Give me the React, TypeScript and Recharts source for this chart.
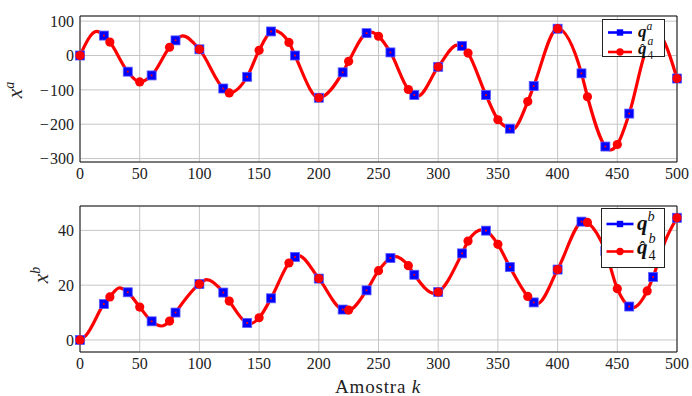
import {
  CartesianGrid,
  ComposedChart,
  Line,
  ReferenceArea,
  XAxis,
  YAxis,
} from "recharts";

const FONT = '"Liberation Serif", "Times New Roman", serif';
const BLUE = "#0000ff";
const RED = "#ff0000";

// sample positions of the markers
const kSquares = [0, 20, 40, 60, 80, 100, 120, 140, 160, 180, 200, 220, 240, 260, 280, 300, 320, 340, 360, 380, 400, 420, 440, 460, 480, 500];
const kCircles = [0, 25, 50, 75, 100, 125, 150, 175, 200, 225, 250, 275, 300, 325, 350, 375, 400, 425, 450, 475, 500];

// x^a : q^a (squares) and q-hat^a_4 (circles)
const qaValues = [0, 58, -47, -58, 44, 18, -96, -62, 70, 0, -123, -49, 65, 9, -115, -33, 28, -115, -213, -89, 78, -52, -265, -169, 58, -67];
const qaHatValues = [0, 39, -77, 24, 18, -109, 15, 38, -123, -17, 56, -99, -33, 7, -187, -134, 78, -120, -259, 26, -67];
// extra points of the curve (peaks / troughs between markers)
const kExtraA = [14, 86, 162, 244, 283, 316, 362, 444, 484, 490];
const extraAValues = [70, 57, 73, 68, -118, 30, -216, -275, 68, 35];

// x^b
const qbValues = [0, 13.1, 17.4, 6.8, 10.0, 20.4, 17.3, 6.2, 15.2, 30.3, 22.4, 11.1, 18.1, 29.9, 23.8, 17.5, 31.6, 39.9, 26.6, 13.7, 25.7, 43.2, 32.5, 12.2, 23.0, 44.6];
const qbHatValues = [0, 15.7, 12.0, 6.9, 20.4, 14.2, 8.1, 28.1, 22.4, 10.9, 25.3, 27.1, 17.5, 36.1, 34.9, 15.9, 25.7, 42.9, 18.7, 17.9, 44.6];
const kExtraB = [5, 33, 68, 106, 143, 183, 263, 297, 337, 383, 422, 463, 490];
const extraBValues = [1.7, 19.0, 5.1, 22.0, 6.0, 30.8, 30.5, 17.0, 40.3, 13.3, 43.6, 11.8, 36.0];

const xTicks = [0, 50, 100, 150, 200, 250, 300, 350, 400, 450, 500];
const yTicksA = [-300, -200, -100, 0, 100];
const yTicksB = [0, 20, 40];

type Row = { k: number; curve?: number; sq?: number; circ?: number };

function buildRows(
  sq: number[],
  circ: number[],
  kExtra: number[],
  extra: number[]
): Row[] {
  const map = new Map<number, Row>();
  const get = (k: number) => {
    let r = map.get(k);
    if (!r) {
      r = { k };
      map.set(k, r);
    }
    return r;
  };
  kSquares.forEach((k, i) => {
    const r = get(k);
    r.sq = sq[i];
    r.curve = sq[i];
  });
  kCircles.forEach((k, i) => {
    const r = get(k);
    r.circ = circ[i];
    r.curve = circ[i];
  });
  kExtra.forEach((k, i) => {
    get(k).curve = extra[i];
  });
  return [...map.values()].sort((a, b) => a.k - b.k);
}

const rowsA = buildRows(qaValues, qaHatValues, kExtraA, extraAValues);
const rowsB = buildRows(qbValues, qbHatValues, kExtraB, extraBValues);

const fmt = (v: number) => (v < 0 ? `\u2212\u200a${Math.abs(v)}` : `${v}`);

const SquareDot = (p: any) => {
  const { cx, cy, index } = p;
  if (cx == null || cy == null || Number.isNaN(cy)) return <g key={`s-${index}`} />;
  return (
    <g key={`s-${index}`}>
      <rect x={cx - 4.5} y={cy - 4.5} width={9} height={9} fill={BLUE} stroke="#5a5aff" strokeWidth={0.8} />
      <rect x={cx - 0.9} y={cy - 0.9} width={1.8} height={1.8} fill={RED} />
    </g>
  );
};

const CircleDot = (p: any) => {
  const { cx, cy, index } = p;
  if (cx == null || cy == null || Number.isNaN(cy)) return <g key={`c-${index}`} />;
  return <circle key={`c-${index}`} cx={cx} cy={cy} r={4.6} fill={RED} />;
};

type PanelProps = {
  rows: Row[];
  domain: [number, number];
  yTicks: number[];
  height: number;
  marginBottom: number;
  yLabel: string;
  yLabelPos: [number, number];
  showXLabel?: boolean;
};

function Panel({ rows, domain, yTicks, height, marginBottom, yLabel, yLabelPos, showXLabel }: PanelProps) {
  const tickStyle = { fontFamily: FONT, fontSize: 16, fill: "#222" };
  return (
    <ComposedChart
      width={692}
      height={height}
      data={rows}
      margin={{ top: 16, right: 15, bottom: marginBottom, left: 0 }}
      style={{ fontFamily: FONT }}
    >
      <CartesianGrid stroke="#c6c6c6" strokeWidth={1} />
      <XAxis
        dataKey="k"
        type="number"
        domain={[0, 500]}
        ticks={xTicks}
        height={26}
        axisLine={false}
        tickLine={false}
        tickSize={4}
        tickMargin={2}
        tick={tickStyle}
        interval={0}
        label={
          showXLabel
            ? {
                content: () => (
                  <text
                    x={378}
                    y={203}
                    textAnchor="middle"
                    fontFamily={FONT}
                    fontSize={19}
                    letterSpacing={0.8}
                    fill="#222"
                  >
                    Amostra <tspan fontStyle="italic">k</tspan>
                  </text>
                ),
              }
            : undefined
        }
      />
      <YAxis
        type="number"
        domain={domain}
        ticks={yTicks}
        allowDataOverflow
        width={80}
        axisLine={false}
        tickLine={false}
        tickSize={4}
        tickMargin={2}
        tick={tickStyle}
        tickFormatter={fmt}
        interval={0}
        label={{
          content: () => (
            <text
              x={yLabelPos[0]}
              y={yLabelPos[1]}
              transform={`rotate(-90 ${yLabelPos[0]} ${yLabelPos[1]})`}
              textAnchor="middle"
              fontFamily={FONT}
              fontSize={21}
              fontStyle="italic"
              fill="#222"
            >
              x
              <tspan dy={-8} fontSize={14}>
                {yLabel}
              </tspan>
            </text>
          ),
        }}
      />
      <ReferenceArea
        x1={0}
        x2={500}
        y1={domain[0]}
        y2={domain[1]}
        fill="none"
        stroke="#111"
        strokeWidth={1}
        ifOverflow="visible"
      />
      <Line
        dataKey="curve"
        type="monotone"
        stroke={RED}
        strokeWidth={3.2}
        dot={false}
        connectNulls
        isAnimationActive={false}
      />
      <Line
        dataKey="sq"
        type="linear"
        stroke="none"
        strokeWidth={0}
        dot={SquareDot}
        connectNulls
        isAnimationActive={false}
      />
      <Line
        dataKey="circ"
        type="linear"
        stroke="none"
        strokeWidth={0}
        dot={CircleDot}
        connectNulls
        isAnimationActive={false}
      />
    </ComposedChart>
  );
}

type LegendProps = {
  left: number;
  top: number;
  width: number;
  height: number;
  row1: number;
  row2: number;
  lineX: [number, number];
  labelX: number;
  size: number;
  sup: string;
};

function LegendBox({ left, top, width, height, row1, row2, lineX, labelX, size, sup }: LegendProps) {
  const mid = (lineX[0] + lineX[1]) / 2;
  const supSize = size * 0.68;
  const base2 = row2 + size * 0.1;
  return (
    <svg
      width={width}
      height={height}
      style={{ position: "absolute", left, top, overflow: "visible", fontFamily: FONT }}
    >
      <rect x={0.5} y={0.5} width={width - 1} height={height - 1} fill="#fff" stroke="#222" strokeWidth={1} />
      <line x1={lineX[0]} x2={lineX[1]} y1={row1} y2={row1} stroke={BLUE} strokeWidth={2.6} />
      <rect x={mid - 3.2} y={row1 - 3.2} width={6.4} height={6.4} fill={BLUE} />
      <text x={labelX} y={row1 + size * 0.27} fontFamily={FONT} fontSize={size} fill="#111">
        <tspan fontWeight="bold" fontStyle="italic">q</tspan>
        <tspan dy={-size * 0.42} fontSize={supSize} fontStyle="italic">{sup}</tspan>
      </text>
      <line x1={lineX[0]} x2={lineX[1]} y1={row2} y2={row2} stroke={RED} strokeWidth={2.6} />
      <circle cx={mid} cy={row2} r={3.7} fill={RED} />
      <text x={labelX} y={base2} fontFamily={FONT} fontSize={size} fill="#111">
        <tspan fontWeight="bold" fontStyle="italic">q</tspan>
        <tspan dx={-size * 0.38} fontSize={size * 0.85}>{"\u02c6"}</tspan>
        <tspan dx={size * 0.15} dy={-size * 0.5} fontSize={supSize} fontStyle="italic">{sup}</tspan>
        <tspan dx={-size * 0.34} dy={size * 0.8} fontSize={supSize}>4</tspan>
      </text>
    </svg>
  );
}

export default function App() {
  return (
    <div style={{ position: "absolute", left: 0, top: 0, width: 692, height: 396, background: "#fff", fontFamily: FONT }}>
      <div style={{ position: "absolute", left: 0, top: 0 }}>
        <Panel
          rows={rowsA}
          domain={[-310, 115]}
          yTicks={yTicksA}
          height={190}
          marginBottom={2}
          yLabel="a"
          yLabelPos={[22, 90]}
        />
      </div>
      <div style={{ position: "absolute", left: 0, top: 190 }}>
        <Panel
          rows={rowsB}
          domain={[-4.4, 48.9]}
          yTicks={yTicksB}
          height={206}
          marginBottom={18}
          yLabel="b"
          yLabelPos={[48, 85]}
          showXLabel
        />
      </div>
      <LegendBox
        left={602}
        top={19}
        width={63}
        height={38}
        row1={13.5}
        row2={33}
        lineX={[6, 30]}
        labelX={36}
        size={17}
        sup="a"
      />
      <LegendBox
        left={601}
        top={208}
        width={64}
        height={60}
        row1={16}
        row2={43.5}
        lineX={[5.5, 32.5]}
        labelX={36}
        size={21}
        sup="b"
      />
    </div>
  );
}
